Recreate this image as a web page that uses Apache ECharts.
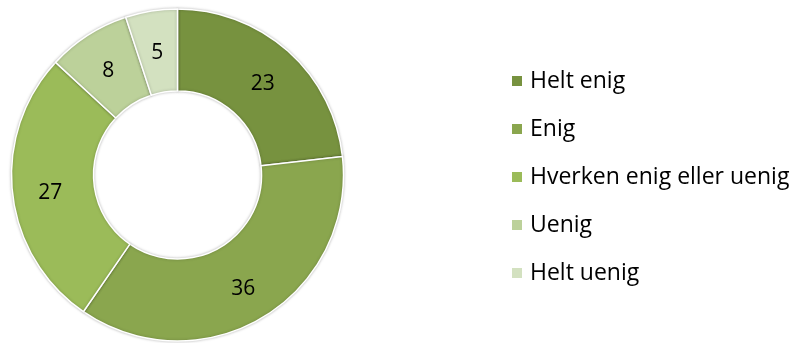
<!DOCTYPE html>
<html>
<head>
<meta charset="utf-8">
<script src="https://cdn.jsdelivr.net/npm/echarts@6/dist/echarts.min.js"></script>
<style>
  html, body { margin: 0; padding: 0; background: #fff; }
  #chart { width: 797px; height: 343px; }
</style>
</head>
<body>
<div id="chart"></div>
<script>
// Response categories and counts
const categories = ['Helt enig', 'Enig', 'Hverken enig eller uenig', 'Uenig', 'Helt uenig'];
const counts = [23, 36, 27, 8, 5];
const colors = ['#77923f', '#8aa64e', '#9bbb59', '#bcd19a', '#d3e1c0'];

const chart = echarts.init(document.getElementById('chart'));
const font = '"Open Sans", Lato, sans-serif';

chart.setOption({
  animation: false,
  color: colors,
  legend: {
    orient: 'vertical',
    left: 505,
    top: 62,
    icon: 'rect',
    itemWidth: 12,
    itemHeight: 12,
    itemGap: 20,
    textStyle: { fontFamily: font, fontSize: 23, color: '#000', lineHeight: 28, padding: [0, 0, 0, 2] },
    data: categories
  },
  series: [{
    type: 'pie',
    center: [177.5, 175],
    radius: [84, 166],
    startAngle: 90,
    clockwise: true,
    itemStyle: {
      borderColor: '#fff',
      borderWidth: 1.5,
      shadowBlur: 3,
      shadowColor: 'rgba(0,0,0,0.25)'
    },
    label: {
      show: true,
      position: 'inside',
      formatter: '{c}',
      fontFamily: font,
      fontSize: 21,
      color: '#000',
      offset: [0, 4]
    },
    labelLine: { show: false },
    emphasis: { disabled: true },
    data: categories.map((name, i) => ({ name: name, value: counts[i] }))
  }]
});
</script>
</body>
</html>
